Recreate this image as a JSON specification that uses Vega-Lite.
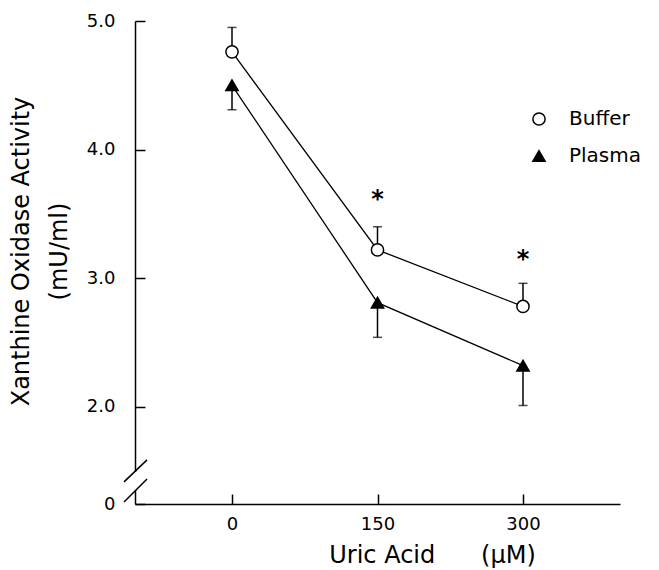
{
  "$schema": "https://vega.github.io/schema/vega-lite/v6.json",
  "width": 485,
  "height": 483,
  "autosize": {"type": "none"},
  "padding": {"left": 135, "top": 21, "right": 39, "bottom": 66},
  "background": "white",
  "config": {
    "font": "DejaVu Sans",
    "view": {"stroke": null},
    "axis": {
      "grid": false,
      "domainColor": "black",
      "domainWidth": 1.5,
      "tickColor": "black",
      "tickWidth": 1.5,
      "tickSize": -10,
      "labelColor": "black",
      "titleColor": "black",
      "labelFont": "DejaVu Sans",
      "titleFont": "DejaVu Sans",
      "labelFontSize": 18,
      "titleFontSize": 24,
      "titleFontWeight": "normal",
      "labelFlush": false
    },
    "legend": {
      "labelFont": "DejaVu Sans",
      "labelFontSize": 20,
      "labelColor": "black"
    }
  },
  "datasets": {
    "pts": [
      {"series": "Buffer", "conc": 0, "mean": 4.76, "end": 4.95},
      {"series": "Buffer", "conc": 150, "mean": 3.22, "end": 3.40},
      {"series": "Buffer", "conc": 300, "mean": 2.78, "end": 2.96},
      {"series": "Plasma", "conc": 0, "mean": 4.50, "end": 4.31},
      {"series": "Plasma", "conc": 150, "mean": 2.81, "end": 2.54},
      {"series": "Plasma", "conc": 300, "mean": 2.32, "end": 2.01}
    ],
    "stars": [
      {"conc": 150, "y": 3.65, "label": "*"},
      {"conc": 300, "y": 3.18, "label": "*"}
    ],
    "brk": [
      {"x": -111.3, "y": 1.416, "x2": -87.6, "y2": 1.587},
      {"x": -111.3, "y": 1.260, "x2": -87.6, "y2": 1.439}
    ],
    "gap": [
      {"x": -100, "y": 1.353, "y2": 1.493}
    ]
  },
  "layer": [
    {
      "data": {"name": "pts"},
      "mark": {"type": "line", "color": "black", "strokeWidth": 1.3},
      "encoding": {
        "x": {
          "field": "conc", "type": "quantitative",
          "scale": {"domain": [-100, 400], "nice": false, "zero": false},
          "axis": {
            "values": [0, 150, 300],
            "labelPadding": 21,
            "title": "Uric Acid\u00a0\u00a0\u00a0\u00a0\u00a0 (μM)",
            "titleX": 297,
            "titleY": 58,
            "titleBaseline": "alphabetic",
            "titleAlign": "center"
          }
        },
        "y": {
          "field": "mean", "type": "quantitative",
          "scale": {"domain": [1.244, 5.0], "nice": false, "zero": false},
          "axis": {
            "values": [1.244, 2, 3, 4, 5],
            "labelExpr": "datum.value < 1.5 ? '0' : format(datum.value, '.1f')",
            "labelPadding": 30,
            "title": ["Xanthine Oxidase Activity", "(mU/ml)"],
            "titleLineHeight": 38,
            "titleX": -102,
            "titleY": 230,
            "titleAngle": -90,
            "titleBaseline": "bottom",
            "titleAlign": "center"
          }
        },
        "detail": {"field": "series"}
      }
    },
    {
      "data": {"name": "pts"},
      "mark": {"type": "rule", "color": "black", "strokeWidth": 1.5},
      "encoding": {
        "x": {"field": "conc", "type": "quantitative"},
        "y": {"field": "mean", "type": "quantitative"},
        "y2": {"field": "end"}
      }
    },
    {
      "data": {"name": "pts"},
      "mark": {"type": "tick", "orient": "horizontal", "size": 9, "thickness": 1.5, "color": "black"},
      "encoding": {
        "x": {"field": "conc", "type": "quantitative"},
        "y": {"field": "end", "type": "quantitative"}
      }
    },
    {
      "data": {"name": "pts"},
      "mark": {"type": "point", "filled": true, "stroke": "black", "strokeWidth": 1.5, "opacity": 1, "size": 150},
      "encoding": {
        "x": {"field": "conc", "type": "quantitative"},
        "y": {"field": "mean", "type": "quantitative"},
        "shape": {
          "field": "series", "type": "nominal",
          "scale": {"domain": ["Buffer", "Plasma"], "range": ["circle", "triangle-up"]},
          "legend": {
            "title": null,
            "orient": "none",
            "legendX": 394,
            "legendY": 88,
            "padding": 0,
            "rowPadding": 17,
            "symbolSize": 150,
            "labelOffset": 20,
            "encode": {
              "symbols": {
                "update": {
                  "stroke": {"value": "black"},
                  "strokeWidth": {"value": 1.5},
                  "opacity": {"value": 1}
                }
              }
            }
          }
        },
        "fill": {
          "field": "series", "type": "nominal",
          "scale": {"domain": ["Buffer", "Plasma"], "range": ["white", "black"]},
          "legend": {
            "title": null,
            "orient": "none",
            "legendX": 394,
            "legendY": 88,
            "padding": 0,
            "rowPadding": 17,
            "symbolSize": 150,
            "labelOffset": 20,
            "encode": {
              "symbols": {
                "update": {
                  "stroke": {"value": "black"},
                  "strokeWidth": {"value": 1.5},
                  "opacity": {"value": 1}
                }
              }
            }
          }
        }
      }
    },
    {
      "data": {"name": "stars"},
      "mark": {"type": "text", "fontSize": 24, "fontWeight": "bold", "color": "black", "baseline": "middle", "dy": 5},
      "encoding": {
        "x": {"field": "conc", "type": "quantitative"},
        "y": {"field": "y", "type": "quantitative"},
        "text": {"field": "label"}
      }
    },
    {
      "data": {"name": "gap"},
      "mark": {"type": "rule", "color": "white", "strokeWidth": 5},
      "encoding": {
        "x": {"field": "x", "type": "quantitative"},
        "y": {"field": "y", "type": "quantitative"},
        "y2": {"field": "y2"}
      }
    },
    {
      "data": {"name": "brk"},
      "mark": {"type": "rule", "color": "black", "strokeWidth": 1.5},
      "encoding": {
        "x": {"field": "x", "type": "quantitative"},
        "y": {"field": "y", "type": "quantitative"},
        "x2": {"field": "x2"},
        "y2": {"field": "y2"}
      }
    }
  ]
}
